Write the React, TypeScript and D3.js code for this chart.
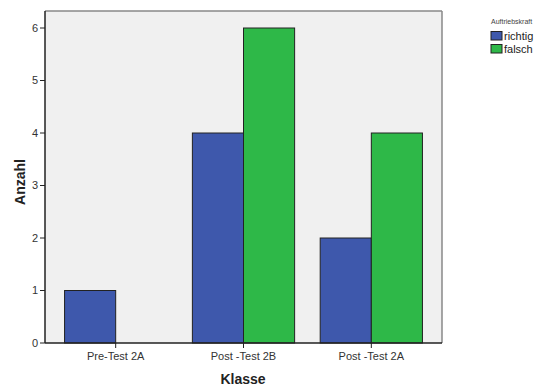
import React from "react";
import * as d3 from "d3";

const categories = ["Pre-Test 2A", "Post -Test 2B", "Post -Test 2A"];
const seriesNames = ["richtig", "falsch"];
const richtig = [1, 4, 2];
const falsch = [0, 6, 4];
const yTicks = [0, 1, 2, 3, 4, 5, 6];
const colors = ["#3E58AC", "#2EB848"];

export default function App() {
  const W = 545, H = 388;
  const left = 45, right = 442, top = 11, bottom = 343;
  const x = d3.scaleBand<string>().domain(categories).range([left, right]).paddingInner(0.2).paddingOuter(0.153);
  const xs = d3.scaleBand<string>().domain(seriesNames).range([0, x.bandwidth()]);
  const y = d3.scaleLinear().domain([0, 6]).range([bottom, 28]);
  const series = [richtig, falsch];
  const font = "Liberation Sans, Arial, sans-serif";
  return (
    <svg width={W} height={H} style={{ position: "absolute", left: 0, top: 0, background: "#fff" }} fontFamily={font}>
      <rect x={left} y={top} width={right - left} height={bottom - top} fill="#F0F0F0" />
      <line x1={left} x2={right} y1={top} y2={top} stroke="#888" strokeWidth={1.5} />
      <line x1={right} x2={right} y1={top} y2={bottom} stroke="#888" strokeWidth={1.5} />
      {categories.map((c, i) =>
        series.map((s, j) =>
          s[i] > 0 ? (
            <rect key={c + j} x={(x(c) as number) + (xs(seriesNames[j]) as number)} y={y(s[i])}
              width={xs.bandwidth()} height={y(0) - y(s[i])} fill={colors[j]} stroke="#222" strokeWidth={1} />
          ) : null
        )
      )}
      <line x1={left} x2={left} y1={top} y2={bottom} stroke="#222" strokeWidth={1.5} />
      <line x1={left} x2={right} y1={bottom} y2={bottom} stroke="#222" strokeWidth={1.5} />
      {yTicks.map((t) => (
        <g key={t}>
          <line x1={left - 5} x2={left} y1={y(t)} y2={y(t)} stroke="#222" />
          <text x={left - 7} y={y(t)} dy="0.35em" textAnchor="end" fontSize={11} fill="#333">{t}</text>
        </g>
      ))}
      {categories.map((c) => {
        const cx = (x(c) as number) + x.bandwidth() / 2;
        return (
          <g key={c}>
            <line x1={cx} x2={cx} y1={bottom} y2={bottom + 5} stroke="#222" />
            <text x={cx} y={bottom + 17} textAnchor="middle" fontSize={11} fill="#333">{c}</text>
          </g>
        );
      })}
      <text x={243} y={384} textAnchor="middle" fontSize={14} fontWeight="bold" fill="#222">Klasse</text>
      <text transform="translate(25,182) rotate(-90)" textAnchor="middle" fontSize={14} fontWeight="bold" fill="#222">Anzahl</text>
      <text x={491} y={24} fontSize={7} fill="#444">Auftriebskraft</text>
      {seriesNames.map((n, j) => (
        <g key={n}>
          <rect x={491} y={31.5 + j * 13} width={11} height={8.5} fill={colors[j]} stroke="#222" strokeWidth={1} />
          <text x={504} y={40 + j * 13} fontSize={11} fill="#222">{n}</text>
        </g>
      ))}
    </svg>
  );
}
